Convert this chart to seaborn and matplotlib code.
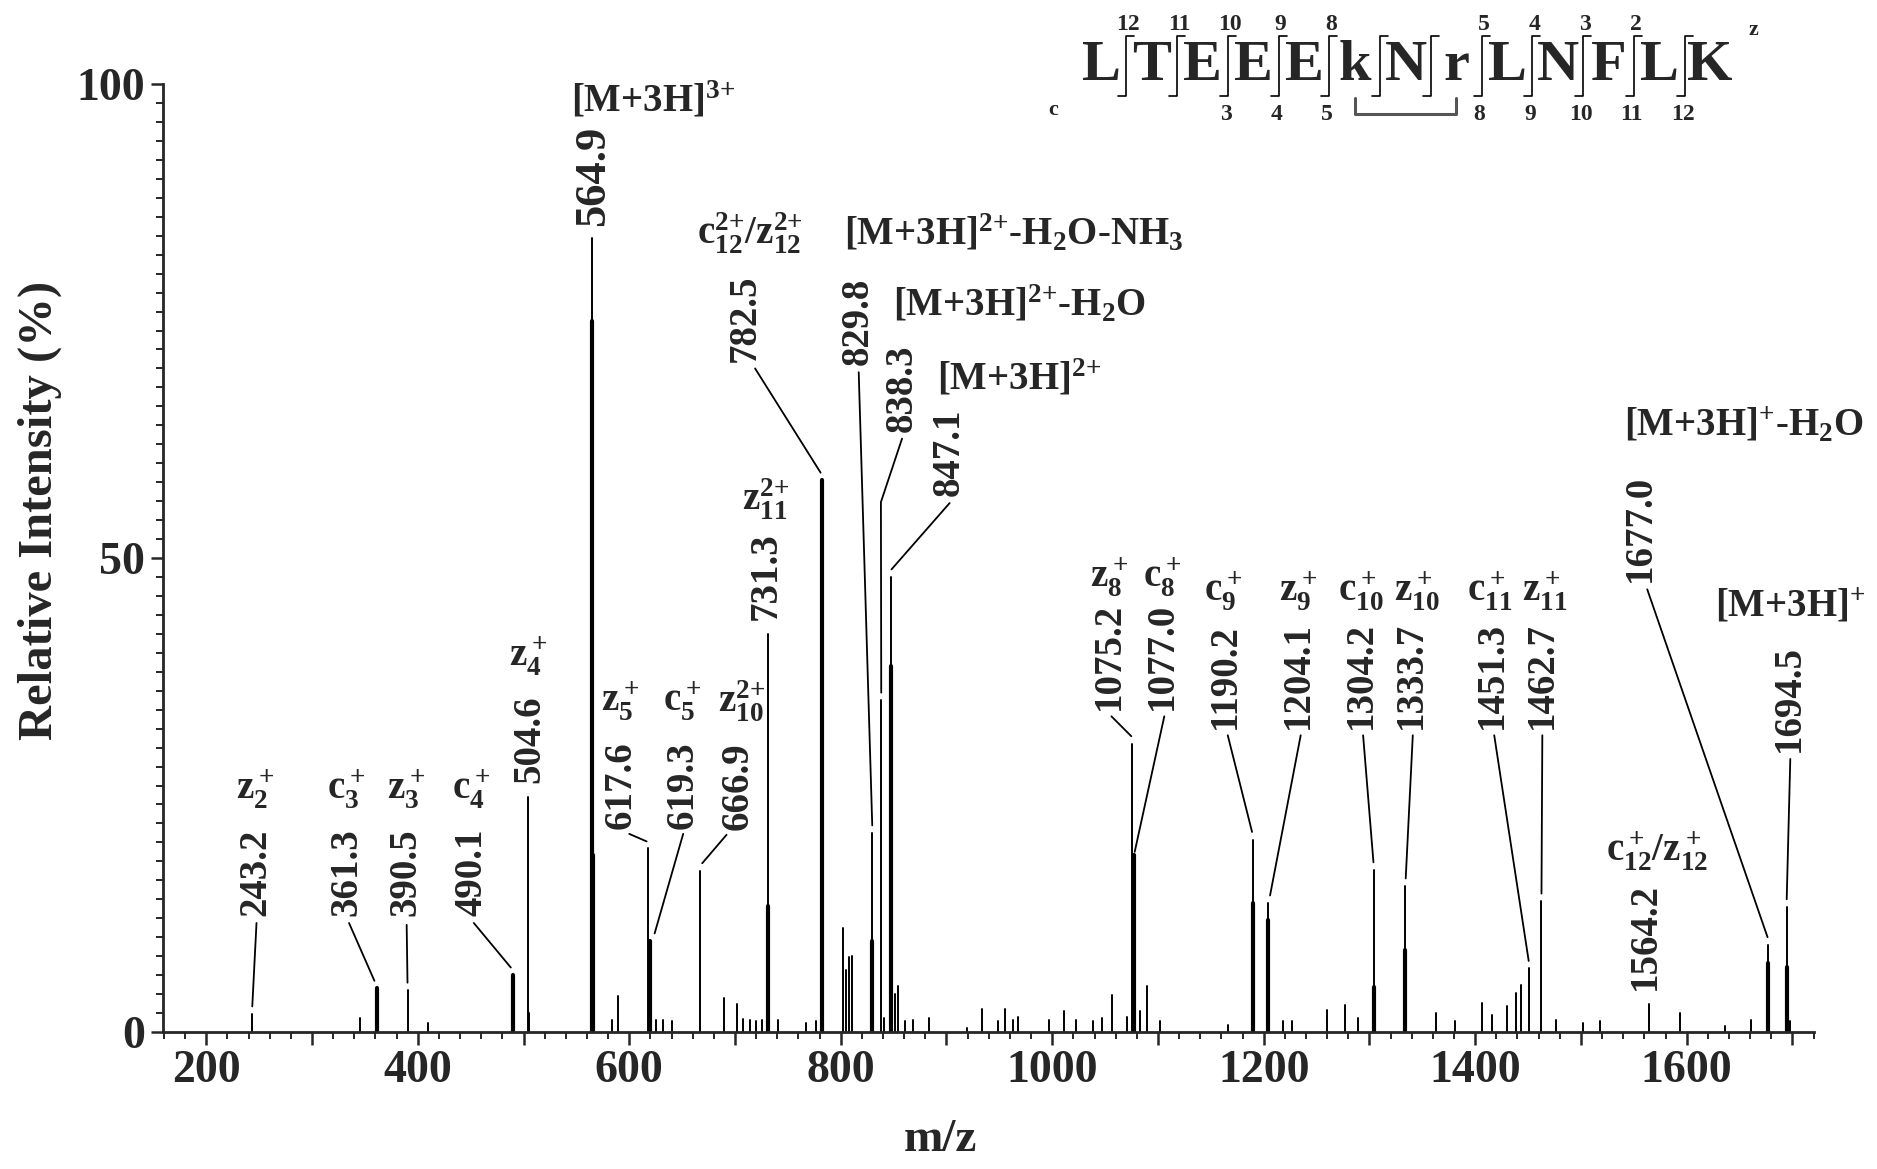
import matplotlib
matplotlib.use('Agg')
import matplotlib.pyplot as plt
from matplotlib.ticker import MultipleLocator, FuncFormatter
import seaborn as sns
import pandas as pd

# labelled peaks: m/z and relative intensity (%)
peak_mz = [243.2, 361.3, 390.5, 490.1, 504.6, 564.9, 617.6, 619.3, 666.9, 731.3,
           782.5, 829.8, 838.3, 847.1, 1075.2, 1077.0, 1190.2, 1204.1, 1304.2,
           1333.7, 1451.3, 1462.7, 1564.2, 1677.0, 1694.5]
peak_int = [1.9, 4.6, 4.4, 6.0, 24.8, 83.8, 19.4, 9.6, 17.0, 42.0,
            58.2, 21.0, 35.0, 48.0, 30.4, 18.2, 20.3, 13.6, 17.1,
            15.4, 6.7, 13.8, 3.0, 9.2, 13.2]
peak_text = [f'{m:.1f}' for m in peak_mz]

# broad lower parts of the stronger peaks (isotope envelopes)
base_mz = [361.3, 490.1, 564.9, 565.4, 619.3, 731.3, 782.5, 829.8, 847.1,
           1077.0, 1190.2, 1204.1, 1304.2, 1333.7, 1677.0, 1694.5]
base_int = [4.6, 6.0, 75.0, 18.7, 9.6, 13.3, 58.2, 9.6, 38.6,
            18.7, 13.6, 11.8, 4.7, 8.7, 7.3, 6.9]

# unlabelled small peaks
noise_mz = [345, 410, 504.9, 584, 589, 625, 632, 640, 689.7, 701.5, 708, 714, 720,
            726, 740.6, 767, 776.5, 802.4, 805, 807.8, 811, 840.7, 851.5, 854,
            861, 868.5, 883.7, 919.6, 933.8, 949, 955.5, 963, 968, 997, 1011,
            1022.7, 1038.8, 1047, 1056.7, 1071, 1083, 1089.8, 1102, 1166, 1218,
            1227, 1259.6, 1276.8, 1289, 1362.6, 1381, 1406, 1415.7, 1429.7, 1439,
            1443.8, 1476.6, 1502, 1518, 1594, 1636.6, 1661, 1698]
noise_int = [1.5, 1.0, 2.0, 1.3, 3.8, 1.3, 1.3, 1.2, 3.6, 3.0, 1.4, 1.3, 1.2,
             1.3, 1.3, 1.0, 1.2, 11.0, 6.5, 7.9, 8.0, 1.5, 4.0, 4.8,
             1.2, 1.3, 1.5, 0.4, 2.4, 1.2, 2.4, 1.3, 1.6, 1.3, 2.2,
             1.3, 1.2, 1.5, 3.9, 1.6, 2.2, 4.8, 1.2, 0.7, 1.2,
             1.2, 2.3, 2.9, 1.5, 2.0, 1.2, 3.1, 1.8, 2.7, 4.1,
             5.0, 1.3, 1.0, 1.2, 2.0, 0.6, 1.3, 1.2]

# ion annotations ({+} keeps mathtext from spacing the charge sign)
ion_text = [r'$z_2^+$', r'$c_3^+$', r'$z_3^+$', r'$c_4^+$', r'$z_4^+$', r'$z_5^+$',
            r'$c_5^+$', r'$z_{10}^{2{+}}$', r'$z_{11}^{2{+}}$',
            r'$c_{12}^{2{+}}/z_{12}^{2{+}}$',
            r'$z_8^+$', r'$c_8^+$', r'$c_9^+$', r'$z_9^+$', r'$c_{10}^+$', r'$z_{10}^+$',
            r'$c_{11}^+$', r'$z_{11}^+$', r'$c_{12}^+/z_{12}^+$']
prec_text = ['[M+3H]$^{3{+}}$', '[M+3H]$^{2{+}}$-H$_2$O-NH$_3$', '[M+3H]$^{2{+}}$-H$_2$O',
             '[M+3H]$^{2{+}}$', '[M+3H]$^{+}$-H$_2$O', '[M+3H]$^{+}$']
sequence = list('LTEEEkNrLNFLK')
z_numbers = ['12', '11', '10', '9', '8', '', '', '5', '4', '3', '2', '']
c_numbers = ['', '', '3', '4', '5', '', '', '8', '9', '10', '11', '12']

# ---- layout of the annotations (data coords: m/z, %) ----
num_pos = [(246.5, 12.2), (333, 12.2), (389, 12.2), (451, 12.2), (505.5, 26.3),
           (565.5, 85.0), (592, 21.4), (651, 21.4), (703, 21.3), (730, 43.5),
           (710, 70.7), (817, 70.4), (858, 63.3), (903, 56.5), (1054, 34.0),
           (1104, 34.0), (1164, 32.0), (1233, 32.0), (1292, 32.0), (1340, 32.0),
           (1416, 32.0), (1464, 32.0), (1561, 4.4), (1556, 47.5), (1697, 29.5)]
leaders = [
    [(247.5, 11.5), (243.5, 2.7)],
    [(335, 11.5), (359, 5.4)],
    [(389.5, 11.3), (390.3, 5.2)],
    [(453, 11.5), (488, 6.8)],
    None, None,
    [(600, 20.9), (616.5, 20.1)],
    [(651, 20.9), (624, 10.4)],
    [(692, 20.8), (669, 17.8)],
    None,
    [(719, 70.0), (781, 59.0)],
    [(817, 69.6), (829.8, 21.8)],
    [(858, 62.6), (838, 55.9), (838.3, 35.8)],
    [(903, 55.8), (848, 48.8)],
    [(1056, 33.3), (1074.8, 31.2)],
    [(1106, 33.3), (1078, 19.0)],
    [(1166, 31.3), (1189, 21.1)],
    [(1235, 31.3), (1206, 14.4)],
    [(1294, 31.3), (1303.8, 17.9)],
    [(1341, 31.3), (1334.3, 16.2)],
    [(1418, 31.3), (1450.6, 7.5)],
    [(1463.5, 31.3), (1462.7, 14.6)],
    None,
    [(1562.7, 46.7), (1676.5, 10.0)],
    [(1698, 28.8), (1694.6, 14.0)],
]
ion_pos = [(246.5, 25.6), (333, 25.6), (389, 25.6), (451, 25.6), (505, 39.6),
           (592, 34.9), (650, 34.9), (706, 34.9), (729, 56.2), (714, 84.3),
           (1054, 48.0), (1104, 48.0), (1162, 46.5), (1233, 46.5), (1292, 46.5),
           (1345, 46.5), (1414, 46.5), (1466, 46.5), (1572, 19.1)]
prec_pos = [(545, 98.3), (803, 84.3), (849, 76.8), (891, 69.0), (1541, 64.0), (1627, 44.9)]

sns.set_theme(style='ticks')
plt.rcParams.update({
    'font.family': ['Liberation Serif', 'DejaVu Serif'],
    'mathtext.default': 'regular',
    'axes.linewidth': 2.0,
})


def sticks(mz, inten):
    """Two points per peak so seaborn draws each one as a vertical stick."""
    rows = []
    for i, (m, h) in enumerate(zip(mz, inten)):
        rows.append((i, m, 0.0))
        rows.append((i, m, h))
    return pd.DataFrame(rows, columns=['peak', 'mz', 'intensity'])


fig = plt.figure(figsize=(18.77, 11.69), dpi=100)
ax = fig.add_axes([0.0868, 0.1172, 0.8794, 0.8109])

sns.lineplot(data=sticks(noise_mz, noise_int), x='mz', y='intensity', units='peak',
             estimator=None, sort=False, color='black', lw=1.4, ax=ax)
sns.lineplot(data=sticks(base_mz, base_int), x='mz', y='intensity', units='peak',
             estimator=None, sort=False, color='black', lw=3.0, ax=ax)
sns.lineplot(data=sticks(peak_mz, peak_int), x='mz', y='intensity', units='peak',
             estimator=None, sort=False, color='black', lw=1.4, ax=ax)

ax.set_xlim(159, 1720)
ax.set_ylim(0, 100)
sns.despine(ax=ax)
ax.spines['left'].set_bounds(0, 100)

ax.xaxis.set_major_locator(MultipleLocator(100))
ax.xaxis.set_minor_locator(MultipleLocator(20))
ax.xaxis.set_major_formatter(FuncFormatter(lambda v, p: f'{v:.0f}' if round(v) % 200 == 0 else ''))
ax.yaxis.set_major_locator(MultipleLocator(50))
ax.yaxis.set_minor_locator(MultipleLocator(2))
ax.tick_params(axis='both', which='major', length=9, width=1.8, labelsize=33, pad=4)
ax.tick_params(axis='both', which='minor', length=5, width=1.4)
for lab in ax.get_xticklabels() + ax.get_yticklabels():
    lab.set_fontweight('bold')

ax.set_xlabel('m/z', fontsize=34, fontweight='bold')
ax.set_ylabel('Relative Intensity (%)', fontsize=35, fontweight='bold')
ax.xaxis.set_label_coords(0.471, -0.092)
ax.yaxis.set_label_coords(-0.061, 0.55)

# peak value labels and leader lines
for txt, (x, y), lead in zip(peak_text, num_pos, leaders):
    size = 32 if txt == '564.9' else 28
    ax.text(x, y, txt, rotation=90, ha='center', va='bottom', fontsize=size,
            fontweight='bold')
    if lead:
        xs, ys = zip(*lead)
        ax.plot(xs, ys, color='black', lw=1.3, clip_on=False)

for txt, (x, y) in zip(ion_text, ion_pos):
    ax.text(x, y, txt, ha='center', va='center', fontsize=28, fontweight='bold')

for txt, (x, y) in zip(prec_text, prec_pos):
    ax.text(x, y, txt, ha='left', va='center', fontsize=28, fontweight='bold')

# peptide sequence with fragment markers (figure pixel coordinates)
hdr = fig.add_axes([0, 0, 1, 1])
hdr.set_xlim(0, 1877)
hdr.set_ylim(1169, 0)
hdr.axis('off')
x0, step = 1101, 50.75
for i, aa in enumerate(sequence):
    hdr.text(x0 + i * step, 66, aa, ha='center', va='center', fontsize=42,
             fontweight='bold')
for i in range(len(sequence) - 1):
    xm = x0 + (i + 0.5) * step
    hdr.plot([xm + 8, xm, xm, xm - 8], [36, 36, 96, 96], color='black', lw=1.2)
    if z_numbers[i]:
        hdr.text(xm + 2, 24, z_numbers[i], ha='center', va='center', fontsize=17,
                 fontweight='bold')
    if c_numbers[i]:
        hdr.text(xm - 2, 114, c_numbers[i], ha='center', va='center', fontsize=17,
                 fontweight='bold')
k_x, r_x = x0 + 5 * step, x0 + 7 * step
hdr.plot([k_x, k_x, r_x, r_x], [98, 114, 114, 98], color='#555555', lw=2.2)
hdr.text(1053, 110, 'c', ha='center', va='center', fontsize=16, fontweight='bold')
hdr.text(1753, 30, 'z', ha='center', va='center', fontsize=16, fontweight='bold')

fig.savefig('out.png', dpi=100)
